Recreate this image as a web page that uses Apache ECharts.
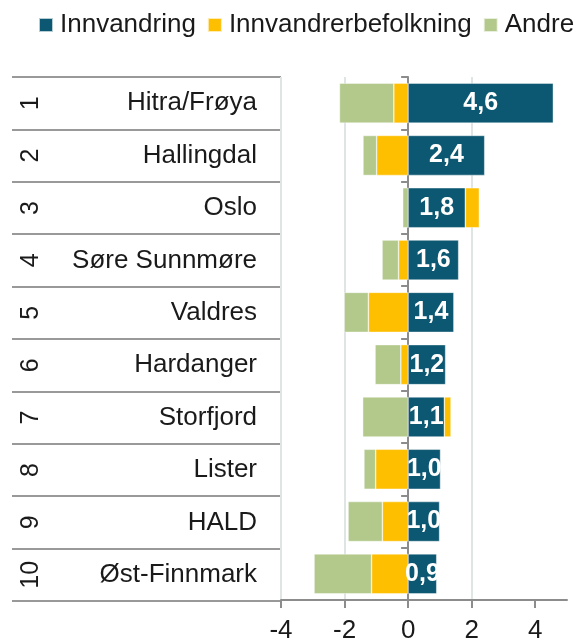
<!DOCTYPE html>
<html>
<head>
<meta charset="utf-8">
<script src="https://cdn.jsdelivr.net/npm/echarts@6/dist/echarts.min.js"></script>
<style>
  html, body { margin: 0; padding: 0; background: #fff; }
  #chart { width: 584px; height: 644px; }
</style>
</head>
<body>
<div id="chart"></div>
<script>
// rangering og regioner, øverst først
const ranks = ['1', '2', '3', '4', '5', '6', '7', '8', '9', '10'];
const regions = ['Hitra/Frøya', 'Hallingdal', 'Oslo', 'Søre Sunnmøre', 'Valdres',
  'Hardanger', 'Storfjord', 'Lister', 'HALD', 'Øst-Finnmark'];

// verdier lest av figuren
const innvandring = [4.57, 2.41, 1.8, 1.59, 1.44, 1.18, 1.14, 1.02, 0.99, 0.9];
const innvandrerbefolkning = [-0.45, -0.99, 0.44, -0.3, -1.25, -0.23, 0.21, -1.02, -0.81, -1.15];
const andre = [-1.71, -0.43, -0.17, -0.52, -0.76, -0.81, -1.43, -0.37, -1.08, -1.81];

const xTicks = [-4, -2, 0, 2, 4];

const FONT = '"Liberation Sans", Arial, sans-serif';
const TEXT = '#1a1a1a';
const LINE = '#8c8c8c';

const chart = echarts.init(document.getElementById('chart'));

const barBorder = { borderColor: 'rgba(255,255,255,0.7)', borderWidth: 0.6 };

const option = {
  animation: false,
  textStyle: { fontFamily: FONT },
  legend: {
    top: 12,
    left: 38,
    padding: 0,
    itemWidth: 14,
    itemHeight: 14,
    itemGap: 11,
    icon: 'rect',
    textStyle: { fontSize: 26, color: TEXT, fontFamily: FONT, padding: [0, 0, 0, 2] },
    data: ['Innvandring', 'Innvandrerbefolkning', 'Andre']
  },
  grid: [
    { left: 281, right: 17, top: 77, bottom: 43 },
    { left: 12, width: 269, top: 77, bottom: 43 }
  ],
  xAxis: [
    {
      gridIndex: 0,
      type: 'value',
      min: -4,
      max: 5,
      interval: 2,
      axisLine: { show: true, onZero: false, lineStyle: { color: LINE, width: 2 } },
      axisTick: { show: true, length: 8, customValues: xTicks, lineStyle: { color: LINE, width: 2 } },
      axisLabel: { customValues: xTicks, fontSize: 26, color: TEXT, margin: 18, fontFamily: FONT },
      splitLine: { show: true, showMaxLine: false, lineStyle: { color: '#dfe4e4', width: 2 } }
    },
    { gridIndex: 1, type: 'value', show: false }
  ],
  yAxis: [
    {
      gridIndex: 0,
      type: 'category',
      inverse: true,
      data: regions,
      axisLine: { show: true, onZero: true, lineStyle: { color: LINE, width: 2 } },
      axisTick: { show: true, length: 7, lineStyle: { color: LINE, width: 2 } },
      axisLabel: { show: false },
      splitLine: { show: false }
    },
    {
      gridIndex: 1,
      type: 'category',
      position: 'right',
      inverse: true,
      data: regions,
      axisLine: { show: false },
      axisTick: { show: false },
      axisLabel: { inside: true, margin: 24, fontSize: 26, color: TEXT, fontFamily: FONT },
      splitLine: { show: true, lineStyle: { color: '#999', width: 2 } }
    },
    {
      gridIndex: 1,
      type: 'category',
      position: 'left',
      inverse: true,
      data: ranks,
      axisLine: { show: false },
      axisTick: { show: false },
      axisLabel: { inside: true, rotate: 90, margin: 7, fontSize: 25, color: TEXT, fontFamily: FONT },
      splitLine: { show: false }
    }
  ],
  series: [
    {
      name: 'Innvandring',
      type: 'bar',
      stack: 'total',
      barWidth: 40,
      itemStyle: Object.assign({ color: '#0c5771' }, barBorder),
      label: {
        show: true,
        position: 'inside',
        color: '#fff',
        fontWeight: 'bold',
        fontSize: 25,
        fontFamily: FONT,
        formatter: p => p.value.toFixed(1).replace('.', ',')
      },
      data: innvandring
    },
    {
      name: 'Innvandrerbefolkning',
      type: 'bar',
      stack: 'total',
      barWidth: 40,
      itemStyle: Object.assign({ color: '#fdbf00' }, barBorder),
      data: innvandrerbefolkning
    },
    {
      name: 'Andre',
      type: 'bar',
      stack: 'total',
      barWidth: 40,
      itemStyle: Object.assign({ color: '#b3c98c' }, barBorder),
      data: andre
    }
  ]
};

chart.setOption(option);
</script>
</body>
</html>
